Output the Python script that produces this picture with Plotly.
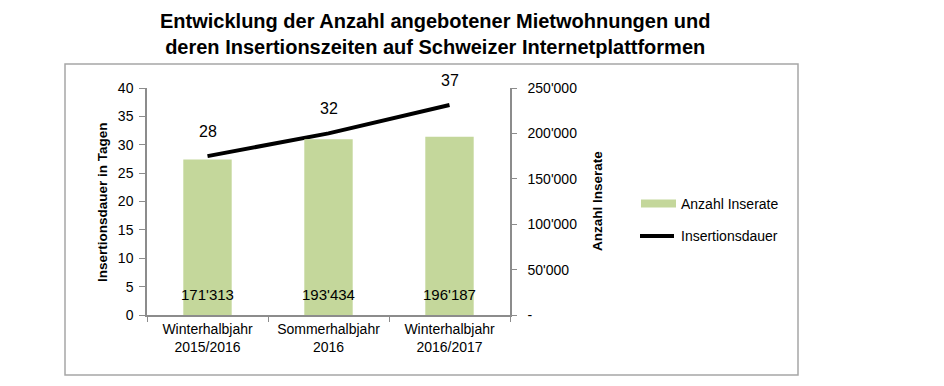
import plotly.graph_objects as go

categories = ["Winterhalbjahr<br>2015/2016", "Sommerhalbjahr<br>2016", "Winterhalbjahr<br>2016/2017"]
anzahl_inserate = [171313, 193434, 196187]
anzahl_labels = ["171'313", "193'434", "196'187"]
insertionsdauer = [28, 32, 37]
y2_tickvals = [0, 50000, 100000, 150000, 200000, 250000]
y2_ticktext = ["-", "50'000", "100'000", "150'000", "200'000", "250'000"]

# The page body has a default 8px margin, so the figure is drawn 8px smaller
# and all target pixel positions are shifted by that offset.
OFF = 8
W, H = 944 - OFF, 386 - OFF
L, R, T, B = 147 - OFF, 510 - OFF, 88 - OFF, 315 - OFF  # plot area in figure pixels


def px_x(x):
    return (x - OFF - L) / (R - L)


def px_y(y):
    return (B - (y - OFF)) / (B - T)


FONT = "Liberation Sans, Arial, sans-serif"
AXIS_COLOR = "#8c8c8c"
GREEN = "#c4d79b"

fig = go.Figure()
fig.add_trace(go.Bar(
    x=categories, y=anzahl_inserate, name="Anzahl Inserate",
    marker=dict(color=GREEN, line=dict(width=0)), width=0.4, yaxis="y2",
    showlegend=False,
))
fig.add_trace(go.Scatter(
    x=categories, y=insertionsdauer, name="Insertionsdauer", mode="lines",
    line=dict(color="black", width=4), yaxis="y", showlegend=False,
))

annotations = []
for c, v in zip(categories, insertionsdauer):
    annotations.append(dict(x=c, y=v, xref="x", yref="y", text=str(v), showarrow=False,
                            yshift=25, font=dict(family=FONT, size=16, color="black")))
for c, lab in zip(categories, anzahl_labels):
    annotations.append(dict(x=c, y=0, xref="x", yref="y", text=lab, showarrow=False,
                            yshift=21, font=dict(family=FONT, size=15, color="black")))

# title
annotations.append(dict(
    x=px_x(434.5), y=px_y(34), xref="paper", yref="paper", showarrow=False,
    text="<b>Entwicklung der Anzahl angebotener Mietwohnungen und<br>deren Insertionszeiten auf Schweizer Internetplattformen</b>",
    font=dict(family=FONT, size=20, color="black"), xanchor="center", yanchor="middle",
))
# axis titles
annotations.append(dict(
    x=px_x(102), y=px_y(202), xref="paper", yref="paper", showarrow=False, textangle=-90,
    text="<b>Insertionsdauer in Tagen</b>", font=dict(family=FONT, size=13.5, color="black"),
    xanchor="center", yanchor="middle",
))
annotations.append(dict(
    x=px_x(597), y=px_y(201), xref="paper", yref="paper", showarrow=False, textangle=-90,
    text="<b>Anzahl Inserate</b>", font=dict(family=FONT, size=13.5, color="black"),
    xanchor="center", yanchor="middle",
))
# legend texts
annotations.append(dict(
    x=px_x(679), y=px_y(203.5), xref="paper", yref="paper", showarrow=False,
    text="Anzahl Inserate", font=dict(family=FONT, size=14, color="black"),
    xanchor="left", yanchor="middle",
))
annotations.append(dict(
    x=px_x(679), y=px_y(236), xref="paper", yref="paper", showarrow=False,
    text="Insertionsdauer", font=dict(family=FONT, size=14, color="black"),
    xanchor="left", yanchor="middle",
))

shapes = [
    # outer border
    dict(type="rect", xref="paper", yref="paper", x0=px_x(65), x1=px_x(798),
         y0=px_y(375), y1=px_y(64), line=dict(color="#a6a6a6", width=1.5), layer="below"),
    # legend swatches
    dict(type="rect", xref="paper", yref="paper", x0=px_x(641), x1=px_x(676),
         y0=px_y(207.5), y1=px_y(199.5), fillcolor=GREEN, line=dict(width=0)),
    dict(type="line", xref="paper", yref="paper", x0=px_x(640), x1=px_x(674),
         y0=px_y(236), y1=px_y(236), line=dict(color="black", width=4)),
]

fig.update_layout(
    width=W, height=H,
    margin=dict(l=L, r=W - R, t=T, b=H - B, pad=0),
    paper_bgcolor="white", plot_bgcolor="white",
    font=dict(family=FONT, size=14, color="black"),
    showlegend=False,
    xaxis=dict(type="category", tickson="boundaries", ticks="outside", ticklen=5,
               tickcolor=AXIS_COLOR, showline=True, linecolor=AXIS_COLOR, linewidth=1.5,
               showgrid=False, tickfont=dict(family=FONT, size=14, color="black")),
    yaxis=dict(range=[0, 40], dtick=5, ticks="outside", ticklen=6, tickcolor=AXIS_COLOR,
               showline=True, linecolor=AXIS_COLOR, linewidth=1.5, showgrid=False,
               zeroline=False, ticklabelstandoff=3,
               tickfont=dict(family=FONT, size=14, color="black")),
    yaxis2=dict(range=[0, 250000], overlaying="y", side="right", tickvals=y2_tickvals,
                ticktext=y2_ticktext, ticks="outside", ticklen=5, tickcolor=AXIS_COLOR,
                showline=True, linecolor=AXIS_COLOR, linewidth=1.5, showgrid=False,
                zeroline=False, ticklabelstandoff=8,
                tickfont=dict(family=FONT, size=14, color="black")),
    annotations=annotations,
    shapes=shapes,
)

fig.write_html("out.html")
